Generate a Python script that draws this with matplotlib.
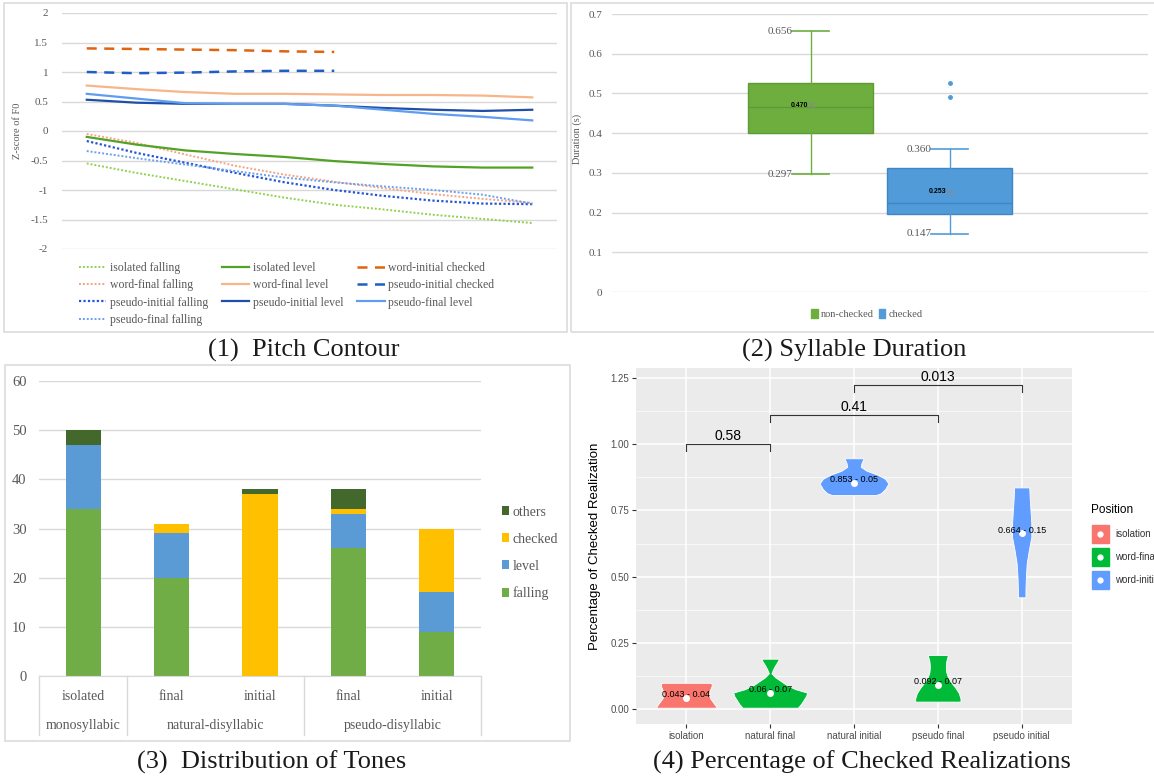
import numpy as np
import matplotlib.pyplot as plt
from matplotlib.patches import Rectangle, Patch
from matplotlib.lines import Line2D

# ---- (1) pitch contour: z-score of F0 over 10 normalised time points ----
pitch_t = np.arange(10)
checked_t = np.arange(6)
iso_fall = [-0.55, -0.71, -0.85, -0.99, -1.13, -1.25, -1.33, -1.42, -1.49, -1.56]
iso_level = [-0.10, -0.23, -0.33, -0.39, -0.44, -0.51, -0.56, -0.60, -0.62, -0.62]
wf_fall = [-0.05, -0.20, -0.40, -0.59, -0.74, -0.86, -0.97, -1.07, -1.15, -1.22]
wf_level = [0.77, 0.71, 0.66, 0.63, 0.63, 0.62, 0.61, 0.61, 0.60, 0.57]
pi_fall = [-0.17, -0.37, -0.54, -0.71, -0.87, -1.00, -1.10, -1.18, -1.23, -1.24]
pi_level = [0.53, 0.48, 0.46, 0.46, 0.46, 0.43, 0.39, 0.36, 0.34, 0.36]
pf_fall = [-0.34, -0.46, -0.57, -0.68, -0.79, -0.87, -0.94, -1.00, -1.08, -1.23]
pf_level = [0.63, 0.55, 0.47, 0.46, 0.46, 0.43, 0.36, 0.29, 0.24, 0.18]
wi_checked = [1.40, 1.39, 1.38, 1.37, 1.35, 1.34]
pi_checked = [1.00, 0.98, 0.99, 1.01, 1.02, 1.02]

# ---- (2) syllable duration ----
dur_groups = ['non-checked', 'checked']
dur_q1 = [0.400, 0.197]
dur_med = [0.465, 0.223]
dur_q3 = [0.527, 0.313]
dur_low = [0.297, 0.147]
dur_high = [0.656, 0.360]
dur_mean = [0.470, 0.253]
dur_outliers = [[], [0.527, 0.492]]

# ---- (3) distribution of tones ----
tone_cats = ['isolated', 'final', 'initial', 'final', 'initial']
tone_groups = ['monosyllabic', 'natural-disyllabic', 'pseudo-disyllabic']
group_sizes = [1, 2, 2]
falling = [34, 20, 0, 26, 9]
level = [13, 9, 0, 7, 8]
checked = [0, 2, 37, 1, 13]
others = [3, 0, 1, 4, 0]

# ---- (4) percentage of checked realizations ----
pos_names = ['isolation', 'natural final', 'natural initial', 'pseudo final', 'pseudo initial']
pos_group = ['isolation', 'word-final', 'word-initial', 'word-final', 'word-initial']
chk_mean = [0.043, 0.06, 0.853, 0.092, 0.664]
chk_sd = [0.04, 0.07, 0.05, 0.07, 0.15]
viol_y = [
    [0.005, 0.012, 0.025, 0.04, 0.055, 0.07, 0.085, 0.094, 0.099],
    [0.005, 0.02, 0.035, 0.05, 0.062, 0.075, 0.09, 0.105, 0.12, 0.135, 0.15, 0.165, 0.18, 0.19],
    [0.808, 0.815, 0.83, 0.852, 0.87, 0.885, 0.90, 0.915, 0.93, 0.947],
    [0.028, 0.04, 0.06, 0.08, 0.10, 0.12, 0.14, 0.16, 0.18, 0.204],
    [0.422, 0.45, 0.50, 0.55, 0.60, 0.65, 0.70, 0.75, 0.80, 0.837],
]
viol_w = [
    [0.36, 0.35, 0.32, 0.285, 0.27, 0.28, 0.30, 0.305, 0.29],
    [0.33, 0.37, 0.40, 0.43, 0.44, 0.30, 0.20, 0.13, 0.06, 0.015, 0.035, 0.06, 0.09, 0.105],
    [0.26, 0.32, 0.37, 0.41, 0.37, 0.28, 0.15, 0.08, 0.09, 0.115],
    [0.27, 0.27, 0.25, 0.21, 0.16, 0.12, 0.10, 0.095, 0.10, 0.12],
    [0.045, 0.045, 0.05, 0.06, 0.085, 0.115, 0.115, 0.105, 0.095, 0.09],
]
cmp_pairs = [(1, 2), (2, 4), (3, 5)]
cmp_p = ['0.58', '0.41', '0.013']
cmp_y = [1.0, 1.112, 1.225]

W, H = 1154, 777
fig = plt.figure(figsize=(W / 100, H / 100), dpi=100)
SERIF = 'Liberation Serif'
SANS = 'Liberation Sans'
GREY = '#595959'
GRID = '#D9D9D9'


def box(x0, y0, x1, y1):
    return [x0 / W, 1 - y1 / H, (x1 - x0) / W, (y1 - y0) / H]


def frame(x0, y0, x1, y1):
    fig.add_artist(Rectangle((x0 / W, 1 - y1 / H), (x1 - x0) / W, (y1 - y0) / H,
                             transform=fig.transFigure, fill=False, ec='#DCDCDC', lw=1.2))


def excel_axes(ax):
    for s in ax.spines.values():
        s.set_visible(False)
    ax.set_axisbelow(True)
    ax.yaxis.grid(True, color=GRID, lw=1)
    ax.tick_params(length=0, labelcolor=GREY)
    ax.set_xticks([])


# ================= panel 1 =================
frame(4, 3, 567, 332)
ax1 = fig.add_axes(box(62, 13, 557, 249))
excel_axes(ax1)
dot = (0, (1, 1))
dash = (0, (4, 3))
series = [
    (pitch_t, iso_fall, '#92D050', dot, 1.4, 'isolated falling'),
    (pitch_t, wf_fall, '#F4A582', dot, 1.4, 'word-final falling'),
    (pitch_t, pi_fall, '#2355D6', dot, 1.6, 'pseudo-initial falling'),
    (pitch_t, pf_fall, '#6CA0EE', dot, 1.4, 'pseudo-final falling'),
    (pitch_t, iso_level, '#52A226', '-', 1.6, 'isolated level'),
    (pitch_t, wf_level, '#F7B58A', '-', 1.6, 'word-final level'),
    (pitch_t, pi_level, '#1F4FA8', '-', 1.6, 'pseudo-initial level'),
    (checked_t, wi_checked, '#E0640E', dash, 1.8, 'word-initial checked'),
    (checked_t, pi_checked, '#1F5FC4', dash, 1.8, 'pseudo-initial checked'),
    (pitch_t, pf_level, '#5F9DF0', '-', 1.6, 'pseudo-final level'),
]
handles = []
for t, v, c, ls, lw, lab in series:
    h, = ax1.plot(t, v, color=c, ls=ls, lw=lw, label=lab)
    handles.append(h)
ax1.set_xlim(-0.5, 9.5)
ax1.set_ylim(-2, 2)
ax1.set_yticks(np.arange(-2, 2.01, 0.5))
ax1.set_yticklabels(['-2', '-1.5', '-1', '-0.5', '0', '0.5', '1', '1.5', '2'],
                    family=SERIF, fontsize=8)
ax1.tick_params(axis='y', pad=10)
ax1.set_ylabel('Z-score of F0', family=SERIF, fontsize=7.5, color=GREY)
ax1.yaxis.set_label_coords((22 - 62) / 495, 0.5)
fig.legend(handles=handles, loc='upper left', bbox_to_anchor=(79 / W, 1 - 262 / H),
           ncol=3, frameon=False, prop={'family': SERIF, 'size': 8.5},
           labelcolor=GREY, handlelength=2.3, handletextpad=0.3, columnspacing=1.2,
           labelspacing=0.45, borderpad=0, borderaxespad=0)

# ================= panel 2 =================
frame(571, 3, 1160, 332)
ax2 = fig.add_axes(box(612, 14, 1148, 292))
excel_axes(ax2)
pos2 = [1, 2]
fills = ['#6DAE3F', '#519BD9']
edges = ['#5E9A36', '#3F86C8']
stats = []
for i in range(2):
    stats.append(dict(med=dur_med[i], q1=dur_q1[i], q3=dur_q3[i], whislo=dur_low[i],
                      whishi=dur_high[i], mean=dur_mean[i], fliers=dur_outliers[i]))
for i in range(2):
    ax2.bxp([stats[i]], positions=[pos2[i]], widths=0.906, capwidths=0.26,
            patch_artist=True, showmeans=True,
            boxprops=dict(facecolor=fills[i], edgecolor=edges[i], lw=1),
            medianprops=dict(color=edges[i], lw=1),
            whiskerprops=dict(color=fills[i], lw=1),
            capprops=dict(color=fills[i], lw=1.2),
            meanprops=dict(marker='x', markeredgecolor='#8A8A8A', markersize=4, mew=0.7),
            flierprops=dict(marker='o', markerfacecolor=fills[i], markeredgecolor=fills[i],
                            markersize=2.5))
    ax2.text(pos2[i] - 0.13, dur_low[i], f'{dur_low[i]:.3f}', ha='right', va='center',
             family=SERIF, fontsize=8, color=GREY)
    ax2.text(pos2[i] - 0.13, dur_high[i], f'{dur_high[i]:.3f}', ha='right', va='center',
             family=SERIF, fontsize=8, color=GREY)
    ax2.text(pos2[i] - 0.02, dur_mean[i], f'{dur_mean[i]:.3f}', ha='right', va='center',
             family=SANS, fontsize=5, fontweight='bold', color='black')
ax2.set_xlim(1.5 - 268 / 139, 1.5 + 268 / 139)
ax2.set_ylim(0, 0.7)
ax2.set_yticks(np.arange(0, 0.71, 0.1))
ax2.set_yticklabels(['0', '0.1', '0.2', '0.3', '0.4', '0.5', '0.6', '0.7'],
                    family=SERIF, fontsize=8)
ax2.tick_params(axis='y', pad=7)
ax2.set_xticks([])
ax2.set_ylabel('Duration (s)', family=SERIF, fontsize=7.5, color=GREY)
ax2.yaxis.set_label_coords((582 - 612) / 536, 0.55)
ax2.legend(handles=[Patch(color=c, label=g) for c, g in zip(fills, dur_groups)],
           loc='center', bbox_to_anchor=((867 - 612) / 536, -22 / 278), ncol=2,
           frameon=False, prop={'family': SERIF, 'size': 7.5}, labelcolor=GREY,
           handlelength=0.6, handleheight=0.9, handletextpad=0.3, columnspacing=0.5)

# ================= panel 3 =================
frame(5, 365, 570, 741)
ax3 = fig.add_axes(box(39, 381, 481, 676))
excel_axes(ax3)
x3 = np.arange(len(tone_cats))
bottom = np.zeros(len(tone_cats))
tone_series = [('falling', falling, '#70AD47'), ('level', level, '#5B9BD5'),
               ('checked', checked, '#FFC000'), ('others', others, '#43682B')]
bars = []
for name, vals, col in tone_series:
    b = ax3.bar(x3, vals, width=0.4, bottom=bottom, color=col, label=name)
    bars.append(b)
    bottom += np.array(vals)
ax3.set_xlim(-0.5, 4.5)
ax3.set_ylim(0, 60)
ax3.set_yticks(np.arange(0, 61, 10))
ax3.set_yticklabels([str(v) for v in range(0, 61, 10)], family=SERIF, fontsize=10.5)
ax3.tick_params(axis='y', pad=9)
ax3.spines['bottom'].set_visible(True)
ax3.spines['bottom'].set_color(GRID)
tr = ax3.get_xaxis_transform()
for xi, lab in zip(x3, tone_cats):
    ax3.text(xi, -20 / 295, lab, transform=tr, ha='center', va='center',
             family=SERIF, fontsize=10, color=GREY)
edges3 = np.concatenate([[0], np.cumsum(group_sizes)]) - 0.5
for e in edges3:
    ax3.plot([e, e], [0, -59 / 295], transform=tr, color=GRID, lw=1, clip_on=False)
for g, a, b in zip(tone_groups, edges3[:-1], edges3[1:]):
    ax3.text((a + b) / 2, -50 / 295, g, transform=tr, ha='center', va='center',
             family=SERIF, fontsize=10, color=GREY)
ax3.legend(handles=bars[::-1], loc='center left',
           bbox_to_anchor=((490 - 39) / 442, (676 - 553) / 295), frameon=False,
           prop={'family': SERIF, 'size': 10}, labelcolor=GREY,
           handlelength=0.5, handleheight=0.6, handletextpad=0.25, labelspacing=1.0)

# ================= panel 4 =================
ax4 = fig.add_axes(box(636, 368, 1072, 724))
ax4.set_facecolor('#EBEBEB')
for s in ax4.spines.values():
    s.set_visible(False)
ax4.set_axisbelow(True)
ax4.set_xlim(0.4, 5.6)
ax4.set_ylim(-0.0566, 1.288)
ax4.set_yticks(np.arange(0, 1.26, 0.25))
ax4.set_yticks(np.arange(0.125, 1.26, 0.25), minor=True)
ax4.set_yticklabels([f'{v:.2f}' for v in np.arange(0, 1.26, 0.25)])
x4 = np.arange(1, 6)
ax4.set_xticks(x4)
ax4.set_xticklabels(pos_names)
ax4.grid(True, which='major', color='white', lw=1.1)
ax4.grid(True, which='minor', axis='y', color='white', lw=0.5)
ax4.tick_params(which='major', length=3, color='#333333', labelcolor='#4D4D4D',
                labelsize=7, pad=2)
ax4.tick_params(which='minor', length=0)
for lab in ax4.get_xticklabels() + ax4.get_yticklabels():
    lab.set_family(SANS)
ax4.set_ylabel('Percentage of Checked Realization', family=SANS, fontsize=9.5, color='black')
ax4.yaxis.set_label_coords((601 - 636) / 436, 0.5)
gcol = {'isolation': '#F8766D', 'word-final': '#00BA38', 'word-initial': '#619CFF'}
for i in range(5):
    yv = np.array(viol_y[i])
    wv = np.array(viol_w[i])
    ax4.fill_betweenx(yv, x4[i] - wv, x4[i] + wv, facecolor=gcol[pos_group[i]],
                      edgecolor='white', lw=0.6)
    ax4.plot(x4[i], chk_mean[i], 'o', color='white', ms=4)
    ax4.text(x4[i], chk_mean[i] + 0.012, f'{chk_mean[i]:g} - {chk_sd[i]:g}',
             ha='center', va='center', family=SANS, fontsize=6.5, color='black')
for (a, b), p, yb in zip(cmp_pairs, cmp_p, cmp_y):
    ax4.plot([a, a, b, b], [yb - 0.027, yb, yb, yb - 0.027], color='#333333', lw=0.8)
    ax4.text((a + b) / 2, yb + 0.03, p, ha='center', va='center', family=SANS,
             fontsize=10, color='black')
# legend (ggplot style keys); the reference image cuts the labels at its right edge
fig.text(1091 / W, 1 - 510 / H, 'Position', family=SANS, fontsize=8.5, va='center')
for i, g in enumerate(['isolation', 'word-final', 'word-initial']):
    yc = 534 + 23 * i
    fig.add_artist(Rectangle(((1100 - 8.5) / W, 1 - (yc + 9) / H), 17 / W, 18 / H,
                             transform=fig.transFigure, color=gcol[g]))
    fig.add_artist(Line2D([1100 / W], [1 - yc / H], marker='o', color='white', ms=3.5,
                          transform=fig.transFigure))
    fig.text(1115 / W, 1 - yc / H, g, family=SANS, fontsize=7, va='center', color='#333333')

# ================= captions =================
cap = dict(family=SERIF, fontsize=19, ha='center', va='center', color='#1A1A1A')
fig.text(304 / W, 1 - 350 / H, '(1)  Pitch Contour', **cap)
fig.text(854 / W, 1 - 350 / H, '(2) Syllable Duration', **cap)
fig.text(272 / W, 1 - 762 / H, '(3)  Distribution of Tones', **cap)
fig.text(862 / W, 1 - 762 / H, '(4) Percentage of Checked Realizations', **cap)

fig.savefig('out.png', dpi=100)
